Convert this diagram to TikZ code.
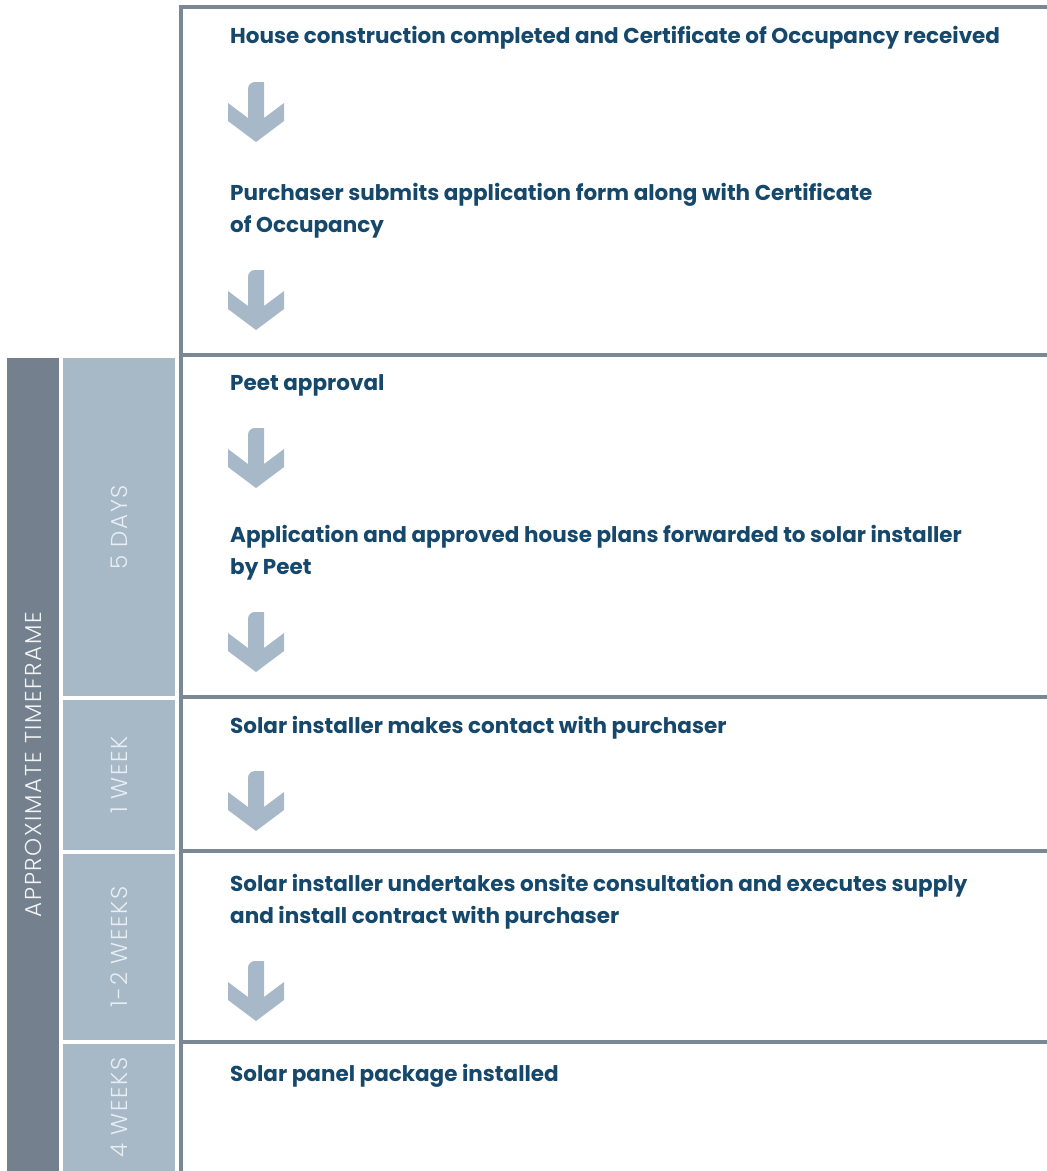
\documentclass[tikz,border=0pt]{standalone}
\usepackage{fontspec}
\setmainfont{Poppins}
\newfontfamily\stepfont{Poppins Bold}
\newfontfamily\thinfont{Poppins Light}[LetterSpace=7]
\definecolor{textblue}{RGB}{22,72,108}
\definecolor{arrowc}{RGB}{167,185,200}
\definecolor{linec}{RGB}{122,135,148}
\definecolor{darkcol}{RGB}{116,128,141}
\definecolor{lightcol}{RGB}{167,184,199}
\definecolor{labdark}{RGB}{240,244,247}
\definecolor{lablight}{RGB}{232,238,243}
\newcommand{\blockarrow}[2]{%
  \fill[arrowc, shift={(#1,#2)}] (20,36) -- (20,7) .. controls (20,3) and (23,0) .. (27,0)
    -- (36,0) -- (36,36) -- (56,21) -- (56,39) -- (28,60) -- (0,39) -- (0,21) -- cycle;}
\begin{document}
\begin{tikzpicture}[x=1pt,y=-1pt,
  stepnode/.style={anchor=base west, inner sep=0pt, align=left, text=textblue,
    font=\stepfont\fontsize{21.5}{32}\selectfont},
  sepline/.style={linec, line width=4.5pt},
  timelab/.style={rotate=90, inner sep=0pt, font=\thinfont\fontsize{23}{26}\selectfont}]
\useasboundingbox (0,0) rectangle (1047,1171);
% columns
\fill[darkcol] (7,358) rectangle (59,1171);
\fill[lightcol] (63,358) rectangle (175,696);
\fill[lightcol] (63,700) rectangle (175,850);
\fill[lightcol] (63,854) rectangle (175,1040);
\fill[lightcol] (63,1044) rectangle (175,1171);
\node[timelab, text=labdark] (tf) at (33,764.5) {APPROXIMATE TIMEFRAME};
\node[timelab, text=lablight] (d5) at (119,527) {5 DAYS};
\node[timelab, text=lablight] (w1) at (119,775) {1 WEEK};
\node[timelab, text=lablight] (w12) at (119,947) {1-2 WEEKS};
\node[timelab, text=lablight] (w4) at (119,1107.5) {4 WEEKS};
% frame lines
\draw[sepline, line join=miter] (1047,7) -- (181,7) -- (181,1171);
\draw[sepline] (181,355) -- (1047,355);
\draw[sepline] (181,697) -- (1047,697);
\draw[sepline] (181,851) -- (1047,851);
\draw[sepline] (181,1042) -- (1047,1042);
% steps (base anchor = baseline of last line)
\node[stepnode] (s1) at (230,43) {House construction completed and Certificate of Occupancy received};
\node[stepnode] (s2) at (230,232) {Purchaser submits application form along with Certificate\\of Occupancy};
\node[stepnode] (s3) at (230,390) {Peet approval};
\node[stepnode] (s4) at (230,574) {Application and approved house plans forwarded to solar installer\\by Peet};
\node[stepnode] (s5) at (230,733) {Solar installer makes contact with purchaser};
\node[stepnode] (s6) at (230,923) {Solar installer undertakes onsite consultation and executes supply\\and install contract with purchaser};
\node[stepnode] (s7) at (230,1081) {Solar panel package installed};
% arrows
\blockarrow{228}{82}
\blockarrow{228}{270}
\blockarrow{228}{428}
\blockarrow{228}{612}
\blockarrow{228}{771}
\blockarrow{228}{961}
\end{tikzpicture}
\end{document}
